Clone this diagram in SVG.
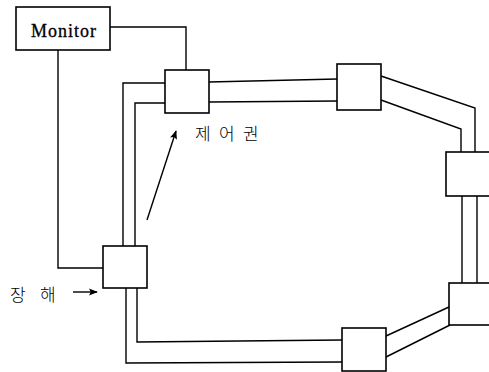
<svg xmlns="http://www.w3.org/2000/svg" width="489" height="372" viewBox="0 0 489 372">
<style>
.box{fill:#fff;stroke:#000;stroke-width:1.6}
.ln{fill:none;stroke:#000;stroke-width:1.4}
.mt{font-family:"Liberation Serif",serif;font-size:18px;letter-spacing:1px;fill:#000;stroke:#000;stroke-width:0.3}
.ko{font-family:"Noto Sans CJK KR",sans-serif;font-size:17px;font-weight:300;fill:#000}
</style>
<defs>
<marker id="ah" viewBox="0 0 10 10" refX="9" refY="5" markerWidth="9" markerHeight="9" orient="auto" markerUnits="userSpaceOnUse">
<path d="M0,1 L10,5 L0,9 L2,5 Z" fill="#000"/>
</marker>
</defs>
<g id="connectors">
<polyline class="ln" points="110,27 186,27 186,70"/>
<polyline class="ln" points="58,50 58,268 103,268"/>
<polyline class="ln" points="165,83 123,83 123,246"/>
<polyline class="ln" points="165,103 135,103 135,246"/>
<line class="ln" x1="209" y1="82" x2="337" y2="79"/>
<line class="ln" x1="209" y1="102" x2="337" y2="101"/>
<polyline class="ln" points="381,76 475,108 475,152"/>
<polyline class="ln" points="381,100 461,129 461,152"/>
<line class="ln" x1="462" y1="196" x2="462" y2="283"/>
<line class="ln" x1="477" y1="196" x2="477" y2="283"/>
<line class="ln" x1="449" y1="307" x2="386" y2="336"/>
<line class="ln" x1="450" y1="325" x2="386" y2="357"/>
<polyline class="ln" points="126,288 126,363 342,362"/>
<polyline class="ln" points="137,288 137,342 342,340"/>
<line class="ln" x1="147" y1="220" x2="176" y2="131" marker-end="url(#ah)"/>
<line class="ln" x1="73" y1="292" x2="97" y2="292" marker-end="url(#ah)"/>
</g>
<g id="monitor">
<rect class="box" x="16" y="7" width="94" height="43"/>
<text class="mt" x="64" y="37" text-anchor="middle">Monitor</text>
</g>
<g id="node-topleft"><rect class="box" x="165" y="70" width="44" height="43"/></g>
<g id="node-top"><rect class="box" x="337" y="64" width="44" height="46"/></g>
<g id="node-right"><rect class="box" x="446" y="152" width="50" height="44"/></g>
<g id="node-lowerright"><rect class="box" x="449" y="283" width="50" height="42"/></g>
<g id="node-bottom"><rect class="box" x="342" y="328" width="44" height="43"/></g>
<g id="node-left"><rect class="box" x="103" y="246" width="44" height="42"/></g>
<g id="labels">
<text class="ko" x="195 219 243" y="140">제어권</text>
<text class="ko" x="10 40" y="301">장해</text>
</g>
</svg>
